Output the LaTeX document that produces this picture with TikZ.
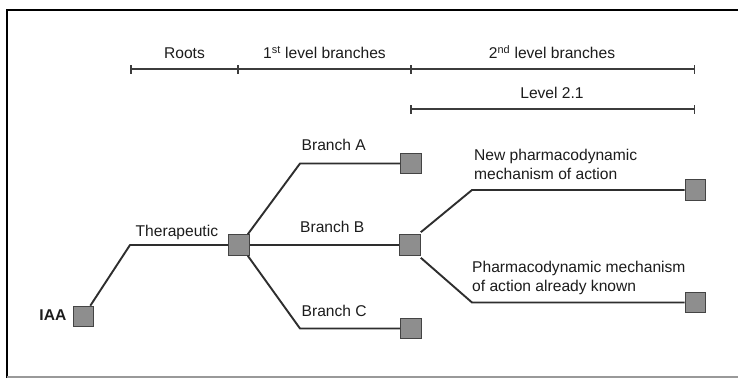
\documentclass[tikz,border=0pt]{standalone}
\usepackage{fontspec}
\setmainfont{Liberation Sans}
\definecolor{inkdark}{HTML}{1C1C1C}
\definecolor{linegray}{HTML}{2E2E2E}
\definecolor{boxfill}{HTML}{8E8E8E}
\definecolor{boxedge}{HTML}{444444}
\definecolor{rulegray}{HTML}{3C3C3C}
\begin{document}
\begin{tikzpicture}[x=1pt,y=-1pt,
  txt/.style={inner sep=0pt, text=inkdark, font=\fontsize{15.6}{19}\selectfont},
  leaf/.style={draw=boxedge, line width=1.1pt, fill=boxfill, minimum size=20.5pt, inner sep=0pt},
  link/.style={draw=linegray, line width=1.9pt, line join=round},
  scalebar/.style={draw=rulegray, line width=1.8pt},
  tick/.style={draw=rulegray, line width=1.3pt}]

% canvas and frame
\useasboundingbox (0,0) rectangle (738,378);
\fill[white] (0,0) rectangle (738,378);
\draw[black, line width=2.6pt] (7,378) -- (7,9.8) -- (738,9.8);
\draw[gray!80, line width=1.3pt] (7,377) -- (738,377);

% scale bars
\coordinate (r0) at (131,69);
\coordinate (r1) at (238,69);
\coordinate (r2) at (411,69);
\coordinate (r3) at (694.5,69);
\coordinate (l0) at (411,109);
\coordinate (l1) at (694.5,109);
\draw[scalebar] (r0) -- (r3);
\draw[scalebar] (l0) -- (l1);
\foreach \p in {r0,r1,r2,r3,l0,l1}
  \draw[tick] ([yshift=-4.5pt]\p) -- ([yshift=4.5pt]\p);

\node[txt, anchor=base] (roots) at (184.5,58.3) {Roots};
\node[txt, anchor=base] (lvl1) at (324.5,58.3) {1\textsuperscript{st} level branches};
\node[txt, anchor=base] (lvl2) at (552,58.3) {2\textsuperscript{nd} level branches};
\node[txt, anchor=base] (lvl21) at (552,98.3) {Level 2.1};

% tree nodes
\node[leaf] (iaa) at (83.5,316.5) {};
\node[leaf] (ther) at (239,245) {};
\node[leaf] (ba) at (411,163.5) {};
\node[leaf] (bb) at (410,245) {};
\node[leaf] (bc) at (411,328.5) {};
\node[leaf] (bn) at (695.5,190) {};
\node[leaf] (bk) at (695.5,302.5) {};

% bend points
\coordinate (kt) at (130,245);
\coordinate (ka) at (300,163.5);
\coordinate (kc) at (300,328.5);
\coordinate (kn) at (472,190);
\coordinate (kk) at (472,302.5);

% connectors
\draw[link] ([xshift=-4pt]iaa.north east) -- (kt) -- (ther.west);
\draw[link] ([xshift=-2pt]ther.north east) -- (ka) -- (ba.west);
\draw[link] (ther.east) -- (bb.west);
\draw[link] ([xshift=-2pt]ther.south east) -- (kc) -- (bc.west);
\draw[link] ([yshift=2pt]bb.north east) -- (kn) -- (bn.west);
\draw[link] ([yshift=-2pt]bb.south east) -- (kk) -- (bk.west);

% labels
\node[txt, anchor=base east, font=\fontsize{15.6}{19}\selectfont\bfseries] (liaa) at (66.5,320.5) {IAA};
\node[txt, anchor=base west] (lther) at (135.5,236.8) {Therapeutic};
\node[txt, anchor=base west] (la) at (301.5,150.7) {Branch A};
\node[txt, anchor=base west] (lb) at (300,232.7) {Branch B};
\node[txt, anchor=base west] (lc) at (301.5,316.7) {Branch C};
\node[txt, anchor=base west] (ln1) at (474,160) {New pharmacodynamic};
\node[txt, anchor=base west] (ln2) at (474,179) {mechanism of action};
\node[txt, anchor=base west] (lk1) at (472,272.7) {Pharmacodynamic mechanism};
\node[txt, anchor=base west] (lk2) at (472,291.7) {of action already known};
\end{tikzpicture}
\end{document}
